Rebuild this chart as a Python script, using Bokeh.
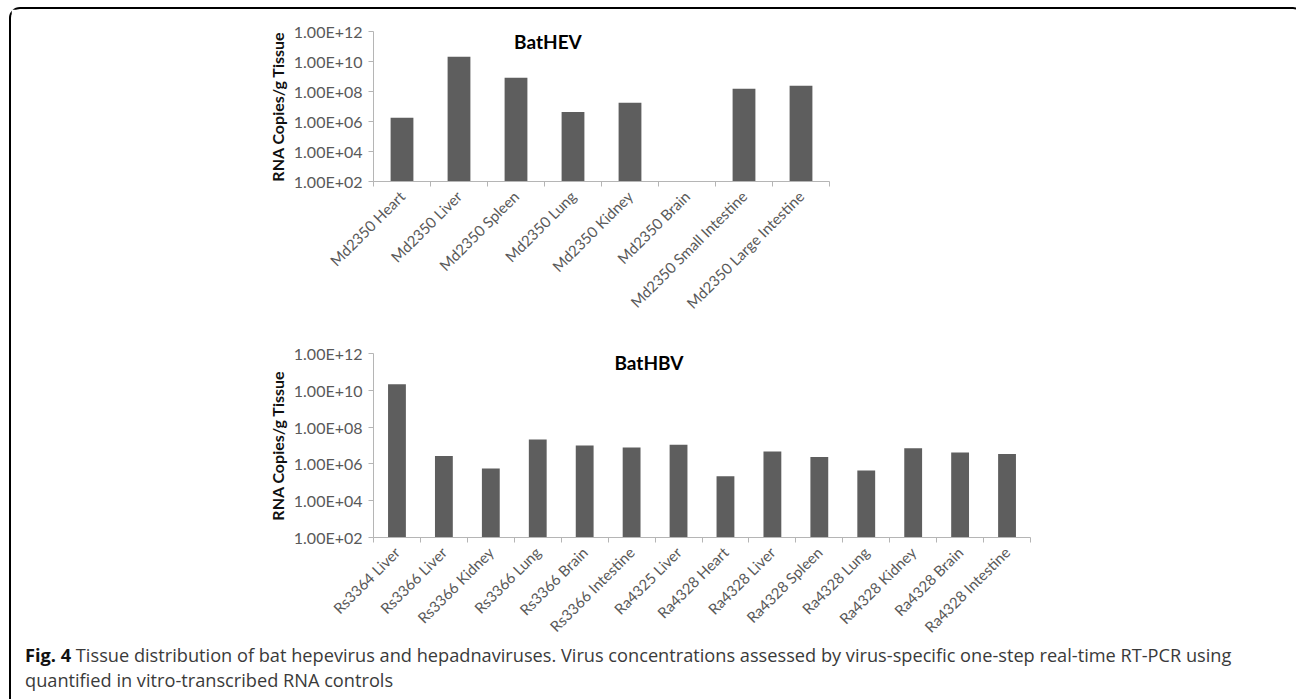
import math

from bokeh.embed import file_html
from bokeh.layouts import column
from bokeh.models import ColumnDataSource, Div, FixedTicker, Label, Range1d
from bokeh.plotting import figure
from bokeh.resources import INLINE

# Viral RNA load per tissue (copies per gram); None = not detected
HEV_TISSUES = [
    "Md2350 Heart", "Md2350 Liver", "Md2350 Spleen", "Md2350 Lung",
    "Md2350 Kidney", "Md2350 Brain", "Md2350 Small Intestine",
    "Md2350 Large Intestine",
]
HEV_COPIES = [1.8e6, 2.1e10, 8.4e8, 4.3e6, 1.8e7, None, 1.5e8, 2.4e8]

HBV_TISSUES = [
    "Rs3364 Liver", "Rs3366 Liver", "Rs3366 Kidney", "Rs3366 Lung",
    "Rs3366 Brain", "Rs3366 Intestine", "Ra4325 Liver", "Ra4328 Heart",
    "Ra4328 Liver", "Ra4328 Spleen", "Ra4328 Lung", "Ra4328 Kidney",
    "Ra4328 Brain", "Ra4328 Intestine",
]
HBV_COPIES = [2.1e10, 2.7e6, 5.6e5, 2.1e7, 1.0e7, 7.8e6, 1.1e7, 2.1e5,
              4.7e6, 2.4e6, 4.4e5, 7.1e6, 4.2e6, 3.5e6]

Y_TICKS = [1e2, 1e4, 1e6, 1e8, 1e10, 1e12]
Y_TICK_LABELS = ["1.00E+02", "1.00E+04", "1.00E+06", "1.00E+08",
                 "1.00E+10", "1.00E+12"]

Y_TITLE = "RNA Copies/g Tissue"
CAPTION_BOLD = "Fig. 4"
CAPTION_LINE1 = ("Tissue distribution of bat hepevirus and hepadnaviruses. "
                 "Virus concentrations assessed by virus-specific one-step "
                 "real-time RT-PCR using")
CAPTION_LINE2 = "quantified in vitro-transcribed RNA controls"

BAR_COLOR = "#5e5e5e"
AXIS_COLOR = "#b5b5b5"
TICK_TEXT = "#595959"
CHART_FONT = "Lato"
PAGE_W = 1281


def tissue_chart(name, tissues, copies, frame_w, frame_h, bar_w,
                 top_pad, bottom_pad, name_x, name_y):
    n = len(tissues)
    p = figure(
        x_range=Range1d(0, n), y_range=Range1d(Y_TICKS[0], Y_TICKS[-1]),
        y_axis_type="log", frame_width=frame_w, frame_height=frame_h,
        min_border_left=362, min_border_right=PAGE_W - 362 - frame_w,
        min_border_top=top_pad, min_border_bottom=bottom_pad,
        toolbar_location=None, output_backend="svg",
    )
    keep = [i for i, v in enumerate(copies) if v is not None]
    src = ColumnDataSource(dict(
        x=[i + 0.5 for i in keep],
        top=[copies[i] for i in keep],
        tissue=[tissues[i] for i in keep],
    ))
    p.vbar(x="x", top="top", bottom=Y_TICKS[0], width=bar_w, source=src,
           fill_color=BAR_COLOR, line_color=None)

    # category labels centred on bars, tick marks on category boundaries
    xa = p.xaxis[0]
    xa.ticker = FixedTicker(ticks=[i + 0.5 for i in range(n)],
                            minor_ticks=list(range(n + 1)))
    xa.major_label_overrides = {i + 0.5: t for i, t in enumerate(tissues)}
    xa.major_tick_line_color = None
    xa.minor_tick_line_color = AXIS_COLOR
    xa.minor_tick_in = 0
    xa.minor_tick_out = 5
    xa.axis_line_color = AXIS_COLOR
    xa.major_label_orientation = math.pi / 4
    xa.major_label_standoff = 6
    xa.major_label_text_font = CHART_FONT
    xa.major_label_text_font_size = "15px"
    xa.major_label_text_color = TICK_TEXT

    ya = p.yaxis[0]
    ya.ticker = FixedTicker(ticks=Y_TICKS)
    ya.major_label_overrides = {t: s for t, s in zip(Y_TICKS, Y_TICK_LABELS)}
    ya.major_tick_line_color = AXIS_COLOR
    ya.major_tick_in = 0
    ya.major_tick_out = 5
    ya.minor_tick_line_color = None
    ya.axis_line_color = AXIS_COLOR
    ya.major_label_standoff = 6
    ya.major_label_text_font = CHART_FONT
    ya.major_label_text_font_size = "16px"
    ya.major_label_text_color = TICK_TEXT
    ya.axis_label = Y_TITLE
    ya.axis_label_text_font = CHART_FONT
    ya.axis_label_text_font_style = "bold"
    ya.axis_label_text_font_size = "16px"
    ya.axis_label_text_color = "#111111"
    ya.axis_label_standoff = 4

    p.grid.visible = False
    p.outline_line_color = None

    p.add_layout(Label(
        x=name_x, y=name_y, text=name, text_font=CHART_FONT,
        text_font_style="bold", text_font_size="19px", text_color="#000000",
        text_align="center", text_baseline="middle",
    ))
    return p


hev = tissue_chart("BatHEV", HEV_TISSUES, HEV_COPIES, 456, 150, 0.4,
                   22, 142, 3.06, 10 ** 11.33)
hbv = tissue_chart("BatHBV", HBV_TISSUES, HBV_COPIES, 657, 184, 0.38,
                   30, 106, 5.87, 10 ** 11.53)

caption = Div(
    text=(f"<div style='position:relative; top:-7px'>"
          f"<b style='color:#111'>{CAPTION_BOLD}</b> {CAPTION_LINE1}<br>"
          f"{CAPTION_LINE2}</div>"),
    width=PAGE_W, height=54,
    styles={
        "font-family": "Open Sans", "font-size": "18.2px", "color": "#3a3a3a",
        "line-height": "25px", "white-space": "nowrap",
        "padding-left": "9px", "box-sizing": "border-box",
    },
)

page = column(
    hev, hbv, caption,
    styles={
        "border": "2px solid #000", "border-radius": "11px",
        "margin-left": "9px", "margin-top": "7px",
    },
)

html = file_html(page, INLINE, title="Tissue distribution of bat hepevirus and hepadnaviruses")
html = html.replace("</head>", "<style>html,body{margin:0;padding:0;}</style></head>", 1)
with open("out.html", "w") as f:
    f.write(html)
